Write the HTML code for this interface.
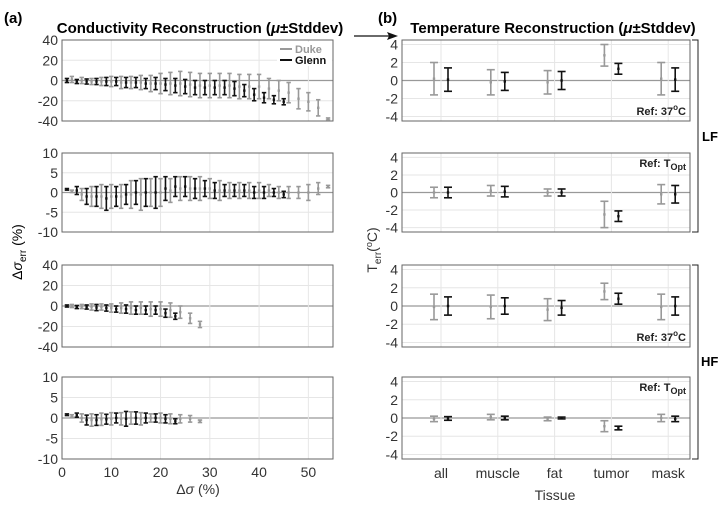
<!DOCTYPE html>
<html><head><meta charset="utf-8"><style>
html,body{margin:0;padding:0;background:#fff;}
svg{display:block;font-family:"Liberation Sans",sans-serif;}
</style></head><body>
<svg id="fig" width="724" height="507" viewBox="0 0 724 507">
<text x="4" y="23" font-size="15" font-weight="bold">(a)</text>
<text x="378" y="23" font-size="15" font-weight="bold">(b)</text>
<text x="200" y="33" font-size="15" font-weight="bold" text-anchor="middle">Conductivity Reconstruction (<tspan font-style="italic">μ</tspan>±Stddev)</text>
<text x="553" y="33" font-size="15" font-weight="bold" text-anchor="middle">Temperature Reconstruction (<tspan font-style="italic">μ</tspan>±Stddev)</text>
<g><line x1="354" y1="36" x2="390" y2="36" stroke="#111" stroke-width="1.3"/><polygon points="398,36 387,32 389,36 387,40" fill="#111"/></g>
<text transform="translate(22,252) rotate(-90)" font-size="14" text-anchor="middle">Δ<tspan font-style="italic">σ</tspan><tspan font-size="10" dy="4">err</tspan><tspan dy="-4"> (%)</tspan></text>
<text transform="translate(377,250) rotate(-90)" font-size="14" text-anchor="middle" fill="#333">T<tspan font-size="10" dy="4">err</tspan><tspan dy="-4">(</tspan><tspan font-size="9" dy="-5">o</tspan><tspan dy="5">C)</tspan></text>
<text x="198" y="494" font-size="14" text-anchor="middle" fill="#333">Δ<tspan font-style="italic">σ</tspan> (%)</text>
<text x="555" y="500" font-size="14" text-anchor="middle" fill="#333">Tissue</text>
<g><path d="M692,40 H698 V232 H692" fill="none" stroke="#222" stroke-width="1"/><text x="702" y="141" font-size="13" font-weight="bold">LF</text></g>
<g><path d="M692,265 H698 V459 H692" fill="none" stroke="#222" stroke-width="1"/><text x="701" y="366" font-size="13" font-weight="bold">HF</text></g>
<g id="plots"></g>
<g>
<rect x="277" y="42" width="55" height="24" fill="#fff"/>
<line x1="280" y1="49" x2="292" y2="49" stroke="#999" stroke-width="2"/><text x="295" y="53" font-size="11" font-weight="bold" fill="#999">Duke</text>
<line x1="280" y1="60" x2="292" y2="60" stroke="#111" stroke-width="2"/><text x="295" y="64" font-size="11" font-weight="bold" fill="#111">Glenn</text>
</g>
</svg>
<script>
// Left panels data: x positions (Δσ %), means, stds
const dukeX1 = [2,4,6,8,10,12,14,16,18,20,22,24,26,28,30,32,34,36,38,40,42,44,46,48,50,52,54];
const dukeM1 = [1,0,-1,-1,-1,-2,-2,-2,-3,-3,-3,-3,-4,-5,-5,-5,-5,-6,-6,-6,-8,-10,-12,-18,-21,-27,-38];
const dukeS1 = [3,3,3,4,5,6,6,7,8,10,11,12,12,12,12,12,12,12,12,12,10,10,10,10,9,8,1];
const glennX1 = [1,3,5,7,9,11,13,15,17,19,21,23,25,27,29,31,33,35,37,39,41,43,45];
const glennM1 = [0,-1,-1,-1,-1,-1,-2,-2,-3,-3,-4,-5,-6,-7,-7,-7,-7,-8,-10,-14,-17,-19,-21];
const glennS1 = [2,2,2.5,3,4,4,5,5,5,6,6,7,7,7,7,7,7,7,6,6,5,4,3];
const dukeM2 = [0.3,-0.5,-1,-1,-1,-1,-0.5,-0.5,0,0,0.5,1,1,1,1,0.5,0.5,0.5,0.5,0.5,0.5,0,0,0,0,1,1.5];
const dukeS2 = [0.3,1.5,2.5,3,3,3,3.5,4,3.5,3.5,3,3,3,3,2.5,2.5,2,2,2,2,1.5,1.5,1.5,1.5,2,1.5,0.3];
const glennM2 = [0.8,0.5,-1,-1,-1.5,-1,-0.5,0,0,0,1,1.5,1.5,1,1,0.5,0.5,0.5,0.5,0,0,0,-0.5];
const glennS2 = [0.2,1,2,2.5,3,2.5,2.5,3,3.5,4,3,2.5,2.5,2.5,2,2,1.5,1.5,1.5,1.5,1.5,1,0.8];
const dukeX3 = [2,4,6,8,10,12,14,16,18,20,22,24,26,28];
const dukeM3 = [0,-0.5,-1,-1,-2,-2,-2,-2,-3,-3,-4,-6,-12,-18];
const dukeS3 = [1.5,2,3,3,4,5,6,6,7,7,7,6,5,3];
const glennX3 = [1,3,5,7,9,11,13,15,17,19,21,23];
const glennM3 = [0,-1,-1,-1.5,-2,-3,-3,-4,-4,-4,-7,-10];
const glennS3 = [1,1.5,2,3,3,3,4,4,4,4,4,3];
const dukeM4 = [0.5,0,-0.5,-0.3,-0.2,-0.2,0,-0.2,0,0,-0.2,-0.2,-0.2,-0.8];
const dukeS4 = [0.3,1,1.5,1.5,1.5,1.5,1.5,1.5,1,1.2,1.2,1,0.8,0.3];
const glennM4 = [0.8,0.7,-0.5,-0.5,-0.3,0,-0.2,0,0,0,-0.2,-0.8];
const glennS4 = [0.2,0.5,1.2,1.3,1.2,1.2,1.8,1.5,1.2,1,1,0.6];
// Right panels data
const tissues = ["all","muscle","fat","tumor","mask"];
const tDukeM1 = [0.2,-0.2,-0.2,2.8,0.2];   const tDukeS1 = [1.8,1.4,1.3,1.2,1.8];
const tGlennM1 = [0.1,-0.1,0,1.3,0.1];     const tGlennS1 = [1.3,1.0,1.0,0.6,1.3];
const tDukeM2 = [0,0.2,0,-2.5,-0.2];       const tDukeS2 = [0.6,0.6,0.4,1.5,1.1];
const tGlennM2 = [0,0.1,0,-2.7,-0.2];      const tGlennS2 = [0.6,0.6,0.4,0.6,1.0];
const tDukeM3 = [-0.1,-0.1,-0.4,1.6,-0.1]; const tDukeS3 = [1.4,1.3,1.2,0.9,1.4];
const tGlennM3 = [0,0,-0.2,0.8,0];         const tGlennS3 = [1.0,0.9,0.8,0.6,1.0];
const tDukeM4 = [-0.1,0.1,-0.1,-0.9,0];    const tDukeS4 = [0.3,0.3,0.2,0.6,0.4];
const tGlennM4 = [-0.05,0,0,-1.1,-0.1];    const tGlennS4 = [0.2,0.2,0.1,0.2,0.3];
const leftXTicks = [0,10,20,30,40,50];
const yTicks40 = [-40,-20,0,20,40];
const yTicks10 = [-10,-5,0,5,10];
const yTicks4 = [-4,-2,0,2,4];

const NS = "http://www.w3.org/2000/svg";
const root = document.getElementById("plots");
function mk(tag, parent, attrs){
  const e = document.createElementNS(NS, tag);
  for (const k in attrs) e.setAttribute(k, attrs[k]);
  parent.appendChild(e);
  return e;
}
const GRAY = "#999", BLACK = "#111";
const panels = [[40,121],[153,232],[265,347],[377,459]];

function axesFrame(g, x0, x1, y0, y1, ys, yTicks, ymin, ymax, vgrid, name){
  for (const t of yTicks){
    const y = ys(t);
    const gl = mk("line", g, {x1:x0, x2:x1, y1:y, y2:y, stroke: t===0 ? "#999" : "#e6e6e6", "stroke-width": t===0?1.2:1});
    
    
    const tl = mk("text", g, {x:x0-4, y:y+5, "font-size":14, "text-anchor":"end", fill:"#333"});
    tl.textContent = t;
    
    
  }
  for (const vx of vgrid){
    const vl = mk("line", g, {x1:vx, x2:vx, y1:y0, y2:y1, stroke:"#e6e6e6"});
    
    
  }
  const r = mk("rect", g, {x:x0, y:y0, width:x1-x0, height:y1-y0, fill:"none", stroke:"#666", "stroke-width":1});
  
  
}
function errbar(g, x, m, s, ys, color, cap, name){
  const e = mk("g", g, {stroke: color, "stroke-width": 1.6});
  
  
  const a = ys(m - s), b = ys(m + s), c = ys(m);
  mk("line", e, {x1:x, x2:x, y1:a, y2:b});
  mk("line", e, {x1:x-cap, x2:x+cap, y1:a, y2:a});
  mk("line", e, {x1:x-cap, x2:x+cap, y1:b, y2:b});
  mk("rect", e, {x:x-1.2, y:c-1.2, width:2.4, height:2.4, fill:color, stroke:"none"});
}

// Left panels
const LX0 = 62, LX1 = 333;
const lx = v => LX0 + (v/55)*(LX1-LX0);
const leftSets = [
  [dukeX1,dukeM1,dukeS1,glennX1,glennM1,glennS1,yTicks40,-40,40],
  [dukeX1,dukeM2,dukeS2,glennX1,glennM2,glennS2,yTicks10,-10,10],
  [dukeX3,dukeM3,dukeS3,glennX3,glennM3,glennS3,yTicks40,-40,40],
  [dukeX3,dukeM4,dukeS4,glennX3,glennM4,glennS4,yTicks10,-10,10]
];
leftSets.forEach((d, i) => {
  const [y0, y1] = panels[i];
  const ymin = d[7], ymax = d[8];
  const ys = v => y1 - (v - ymin)/(ymax - ymin)*(y1 - y0);
  const g = mk("g", root, {});
  
  
  axesFrame(g, LX0, LX1, y0, y1, ys, d[6], ymin, ymax, leftXTicks.filter(t=>t>0).map(lx), 'conductivity-panel');
  d[0].forEach((x, k) => errbar(g, lx(x), d[1][k], d[2][k], ys, GRAY, 2.2, 'duke-errorbar'));
  d[3].forEach((x, k) => errbar(g, lx(x), d[4][k], d[5][k], ys, BLACK, 2.2, 'glenn-errorbar'));
  if (i === 3){
    for (const t of leftXTicks){
      const tl = mk("text", g, {x:lx(t), y:y1+18, "font-size":14, "text-anchor":"middle", fill:"#333"});
      tl.textContent = t;
      
      
    }
  }
});

// Right panels
const RX0 = 402, RX1 = 690;
const rx = i => 441 + i*56.8;
const rightSets = [
  [tDukeM1,tDukeS1,tGlennM1,tGlennS1,"Ref: 37°C",false],
  [tDukeM2,tDukeS2,tGlennM2,tGlennS2,"Ref: T_Opt",true],
  [tDukeM3,tDukeS3,tGlennM3,tGlennS3,"Ref: 37°C",false],
  [tDukeM4,tDukeS4,tGlennM4,tGlennS4,"Ref: T_Opt",true]
];
rightSets.forEach((d, i) => {
  const [y0, y1] = panels[i];
  const ys = v => y1 - (v + 4.5)/9*(y1 - y0);
  const g = mk("g", root, {});
  
  
  axesFrame(g, RX0, RX1, y0, y1, ys, yTicks4, -4.5, 4.5, tissues.map((t,k)=>rx(k)), 'temperature-panel');
  tissues.forEach((t, k) => {
    errbar(g, rx(k)-7, d[0][k], d[1][k], ys, GRAY, 4, 'duke-errorbar-' + t);
    errbar(g, rx(k)+7, d[2][k], d[3][k], ys, BLACK, 4, 'glenn-errorbar-' + t);
  });
  const lab = mk("text", g, {x:RX1-4, y: d[5] ? y0+14 : y1-6, "font-size":11, "font-weight":"bold", "text-anchor":"end", fill:"#222"});
  if (d[5]) { lab.innerHTML = 'Ref: T<tspan font-size="9" dy="3">Opt</tspan>'; }
  else { lab.innerHTML = 'Ref: 37<tspan font-size="8" dy="-5">o</tspan><tspan dy="5">C</tspan>'; }
  
  
  if (i === 3){
    tissues.forEach((t, k) => {
      const tl = mk("text", g, {x:rx(k), y:y1+19, "font-size":14, "text-anchor":"middle", fill:"#333"});
      tl.textContent = t;
      
      
    });
  }
});
</script>
</body></html>
